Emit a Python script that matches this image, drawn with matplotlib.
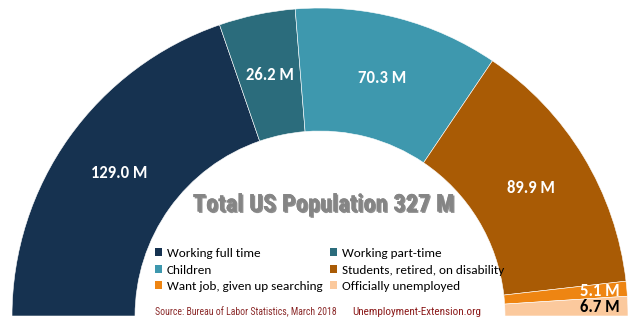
import matplotlib
matplotlib.use("Agg")
import matplotlib.pyplot as plt
import matplotlib.patheffects as pe
import numpy as np
from matplotlib import font_manager as fm

categories = ["Working full time", "Working part-time", "Children",
              "Students, retired, on disability", "Want job, given up searching",
              "Officially unemployed"]
values = [129.0, 26.2, 70.3, 89.9, 5.1, 6.7]
value_labels = ["129.0 M", "26.2 M", "70.3 M", "89.9 M", "5.1 M", "6.7 M"]
colors = ["#163250", "#2b6c7c", "#3e98ae", "#a95b05", "#ee8512", "#fbc99d"]
title_text = "Total US Population 327 M"
source_text = "Source: Bureau of Labor Statistics, March 2018"
site_text = "Unemployment-Extension.org"

names = {f.name for f in fm.fontManager.ttflist}
def pick(*cands):
    for c in cands:
        if c in names:
            return c
    return "DejaVu Sans"
body = pick("Carlito", "Lato", "DejaVu Sans")
cond = pick("Roboto Condensed", "Barlow Condensed", "Archivo Narrow", "DejaVu Sans")

fig = plt.figure(figsize=(6.39, 3.24), dpi=100)
ax = fig.add_axes([0, 0, 1, 1])

cx, cy, R = 320, 8, 308
ring = 123
total = sum(values)
wedges, _ = ax.pie(values + [total], colors=colors + ["none"], startangle=180,
                   counterclock=False, center=(cx, cy), radius=R,
                   wedgeprops=dict(width=ring, edgecolor="white", linewidth=0.4),
                   frame=True)
wedges[-1].set_edgecolor("none")
ax.set_xlim(0, 639)
ax.set_ylim(0, 324)
ax.set_aspect("equal")
ax.axis("off")

# value labels
cum = np.cumsum([0] + values)
rmid = R - ring / 2
for i, (v, lab) in enumerate(zip(values, value_labels)):
    mid = np.deg2rad(180 - (cum[i] + v / 2) / total * 180)
    if i < 4:
        ax.text(cx + rmid * np.cos(mid), cy + rmid * np.sin(mid), lab,
                ha="center", va="center", color="white", fontsize=12,
                fontweight="bold", family=body)
    else:
        ax.text(620, cy + 282 * np.sin(mid), lab, ha="right", va="center",
                color="white" if i == 4 else "black", fontsize=12,
                fontweight="bold", family=body)

ax.text(323, 119, title_text, ha="center", va="center", fontsize=17.6,
        fontweight="bold", family=cond, color="#858585",
        path_effects=[pe.withSimplePatchShadow(offset=(1, -1), shadow_rgbFace="#444444", alpha=0.6),
                      pe.Normal()])

order = [0, 2, 4, 1, 3, 5]
leg = ax.legend([wedges[i] for i in order], [categories[i] for i in order],
                ncol=2, frameon=False, loc="center", bbox_to_anchor=(329.5 / 639, 54 / 324),
                handlelength=0.55, handleheight=0.55, handletextpad=0.35,
                labelspacing=0.42, columnspacing=0.6, prop=dict(family=body, size=9.5))
for h in leg.legend_handles:
    h.set_edgecolor("none")

ax.text(155, 12, source_text, ha="left", va="center", fontsize=7,
        family=cond, color="#8b2a2a")
ax.text(352, 12, site_text, ha="left", va="center", fontsize=8,
        family=cond, color="#8b1a1a")

fig.savefig("out.png", dpi=100)
